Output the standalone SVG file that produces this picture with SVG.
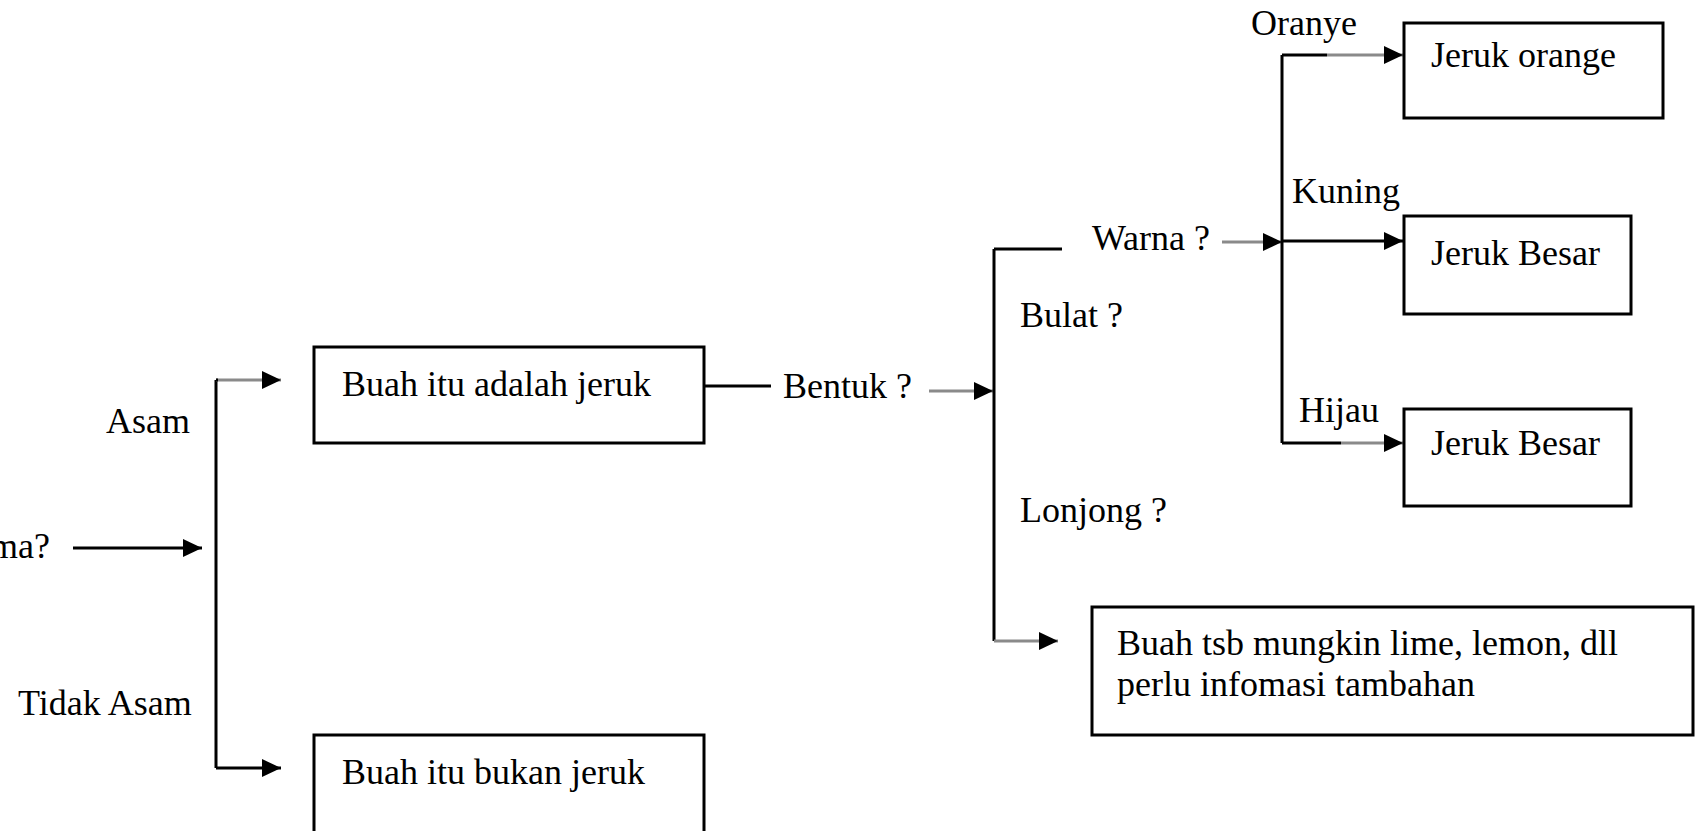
<svg xmlns="http://www.w3.org/2000/svg" width="1695" height="831" viewBox="0 0 1695 831">
<style>
text{font-family:"Liberation Serif","Times New Roman",serif;font-size:36px;fill:#000}
.box{fill:#fff;stroke:#000;stroke-width:3}
.ln{fill:none;stroke:#000;stroke-width:3}
.gr{fill:none;stroke:#8a8a8a;stroke-width:3}
</style>
<defs>
<marker id="ah" viewBox="0 0 19 18" refX="19" refY="9" markerWidth="19" markerHeight="18" markerUnits="userSpaceOnUse" orient="auto">
<path d="M0,0 L19,9 L0,18 z" fill="#000"/>
</marker>
</defs>
<rect width="1695" height="831" fill="#fff"/>

<g id="connectors">
<path class="ln" d="M73 548 H202" marker-end="url(#ah)"/>
<path class="ln" d="M216 380 V768"/>
<path class="gr" d="M216 380 H281" marker-end="url(#ah)"/>
<path class="ln" d="M216 380 H218"/>
<path class="ln" d="M216 768 H281" marker-end="url(#ah)"/>
<path class="ln" d="M704 386 H771"/>
<path class="gr" d="M929 391 H993" marker-end="url(#ah)"/>
<path class="ln" d="M994 249 V641"/>
<path class="ln" d="M994 249 H1062"/>
<path class="gr" d="M994 641 H1058" marker-end="url(#ah)"/>
<path class="gr" d="M1222 242 H1282" marker-end="url(#ah)"/>
<path class="ln" d="M1282 55 V443"/>
<path class="gr" d="M1327 55 H1403" marker-end="url(#ah)"/>
<path class="ln" d="M1282 55 H1327"/>
<path class="ln" d="M1282 241 H1403" marker-end="url(#ah)"/>
<path class="gr" d="M1341 443 H1403" marker-end="url(#ah)"/>
<path class="ln" d="M1282 443 H1341"/>
</g>

<g id="edge-labels">
<text x="106" y="433">Asam</text>
<text x="18" y="715">Tidak Asam</text>
<text x="1020" y="327">Bulat ?</text>
<text x="1020" y="522">Lonjong ?</text>
<text x="1251" y="35">Oranye</text>
<text x="1292" y="203">Kuning</text>
<text x="1299" y="422">Hijau</text>
</g>

<g id="q-rasa">
<text x="50" y="558" text-anchor="end">ma?</text>
</g>

<g id="q-bentuk">
<text x="783" y="398">Bentuk ?</text>
</g>

<g id="q-warna">
<text x="1092" y="250">Warna ?</text>
</g>

<g id="n-jeruk">
<rect class="box" x="314" y="347" width="390" height="96"/>
<text x="342" y="396">Buah itu adalah jeruk</text>
</g>

<g id="n-bukan-jeruk">
<rect class="box" x="314" y="735" width="390" height="130"/>
<text x="342" y="784">Buah itu bukan jeruk</text>
</g>

<g id="n-jeruk-orange">
<rect class="box" x="1404" y="23" width="259" height="95"/>
<text x="1431" y="67">Jeruk orange</text>
</g>

<g id="n-jeruk-besar-1">
<rect class="box" x="1404" y="216" width="227" height="98"/>
<text x="1431" y="265">Jeruk Besar</text>
</g>

<g id="n-jeruk-besar-2">
<rect class="box" x="1404" y="409" width="227" height="97"/>
<text x="1431" y="455">Jeruk Besar</text>
</g>

<g id="n-lime-lemon">
<rect class="box" x="1092" y="607" width="601" height="128"/>
<text x="1117" y="655">Buah tsb mungkin lime, lemon, dll</text>
<text x="1117" y="696">perlu infomasi tambahan</text>
</g>
</svg>
